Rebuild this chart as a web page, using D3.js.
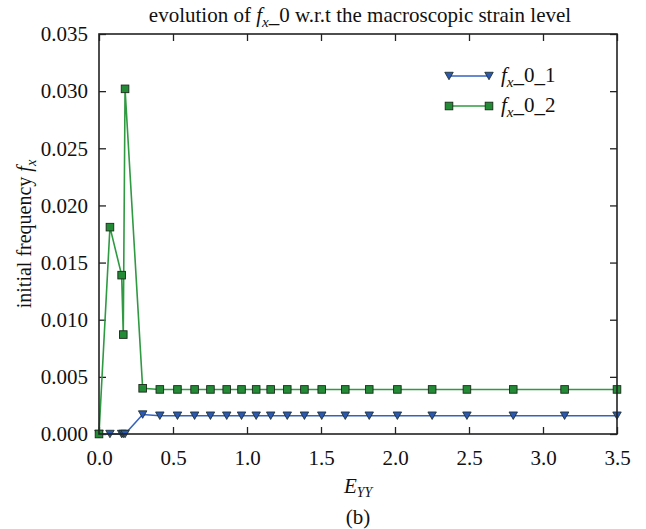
<!DOCTYPE html>
<html>
<head>
<meta charset="utf-8">
<script src="https://cdn.jsdelivr.net/npm/d3@7"></script>
<style>
  html, body { margin: 0; padding: 0; background: #fff; }
  svg { display: block; font-family: "Liberation Serif", "DejaVu Serif", serif; }
</style>
</head>
<body>
<svg id="chart" width="646" height="529"></svg>
<script>
// Macroscopic strain E_YY at each sampled state
const strain = [0, 0.074, 0.153, 0.164, 0.176, 0.295, 0.411, 0.53, 0.646, 0.753,
  0.863, 0.963, 1.062, 1.16, 1.272, 1.388, 1.505, 1.664, 1.826, 2.016,
  2.251, 2.486, 2.799, 3.146, 3.5];
// Initial frequency f_x for the two families
const fx01 = [0, 0, 0, 0, 0, 0.0017, 0.0016, 0.0016, 0.0016, 0.0016,
  0.0016, 0.0016, 0.0016, 0.0016, 0.0016, 0.0016, 0.0016, 0.0016, 0.0016, 0.0016,
  0.0016, 0.0016, 0.0016, 0.0016, 0.0016];
const fx02 = [0, 0.0181, 0.0139, 0.0087, 0.0302, 0.0040, 0.0039, 0.0039, 0.0039, 0.0039,
  0.0039, 0.0039, 0.0039, 0.0039, 0.0039, 0.0039, 0.0039, 0.0039, 0.0039, 0.0039,
  0.0039, 0.0039, 0.0039, 0.0039, 0.0039];
const xTicks = [0, 0.5, 1.0, 1.5, 2.0, 2.5, 3.0, 3.5];
const yTicks = [0, 0.005, 0.010, 0.015, 0.020, 0.025, 0.030, 0.035];
const seriesNames = ["1", "2"];

const svg = d3.select("#chart");
const L = 99, R = 617, T = 34, B = 434;
const x = d3.scaleLinear().domain([0, 3.5]).range([L, R]);
const y = d3.scaleLinear().domain([0, 0.035]).range([B, T]);

const blueLine = "#3562c0", blueFill = "#2a58b4";
const greenLine = "#2f9a42", greenFill = "#238a36";
const edge = "#1a2a1a";
const fs = 21;

// axes with inward ticks on all four sides
const tickLen = 7;
const axB = d3.axisBottom(x).tickValues(xTicks).tickFormat(d3.format(".1f")).tickSizeInner(-tickLen).tickSizeOuter(0).tickPadding(16);
const axT = d3.axisTop(x).tickValues(xTicks).tickFormat("").tickSizeInner(-tickLen).tickSizeOuter(0);
const axL = d3.axisLeft(y).tickValues(yTicks).tickFormat(d3.format(".3f")).tickSizeInner(-tickLen).tickSizeOuter(0).tickPadding(11);
const axR = d3.axisRight(y).tickValues(yTicks).tickFormat("").tickSizeInner(-tickLen).tickSizeOuter(0);

function styleAxis(g) {
  g.selectAll("path").remove();
  g.selectAll("line").attr("stroke", "#222").attr("stroke-width", 1.3);
  g.selectAll("text").attr("font-family", "Liberation Serif").attr("font-size", fs).attr("fill", "#111");
}
svg.append("g").attr("transform", `translate(0,${B})`).call(axB).call(styleAxis);
svg.append("g").attr("transform", `translate(0,${T})`).call(axT).call(styleAxis);
svg.append("g").attr("transform", `translate(${L},0)`).call(axL).call(styleAxis);
svg.append("g").attr("transform", `translate(${R},0)`).call(axR).call(styleAxis);

const plot = svg.append("g");
const line = d3.line().x(d => x(d[0])).y(d => y(d[1]));
const d1 = strain.map((s, i) => [s, fx01[i]]);
const d2 = strain.map((s, i) => [s, fx02[i]]);

function triPath(cx, cy) {
  const w = 8.5, h = 7.5;
  return `M${cx - w / 2},${cy - h / 2}L${cx + w / 2},${cy - h / 2}L${cx},${cy + h / 2}Z`;
}
function drawSeries(data, lc, fc, marker) {
  plot.append("path").datum(data).attr("d", line)
    .attr("fill", "none").attr("stroke", lc).attr("stroke-width", 1.6);
  if (marker === "tri") {
    plot.selectAll(null).data(data).enter().append("path")
      .attr("d", d => triPath(x(d[0]), y(d[1])))
      .attr("fill", fc).attr("stroke", edge).attr("stroke-width", 0.8);
  } else {
    plot.selectAll(null).data(data).enter().append("rect")
      .attr("x", d => x(d[0]) - 3.8).attr("y", d => y(d[1]) - 3.8)
      .attr("width", 7.6).attr("height", 7.6)
      .attr("fill", fc).attr("stroke", edge).attr("stroke-width", 0.9);
  }
}
drawSeries(d1, blueLine, blueFill, "tri");
drawSeries(d2, greenLine, greenFill, "sq");

// frame
svg.append("rect").attr("x", L).attr("y", T).attr("width", R - L).attr("height", B - T)
  .attr("fill", "none").attr("stroke", "#222").attr("stroke-width", 1.6);

// f_x label helper: italic f with italic subscript x
function fxText(t, prefix, suffix, size) {
  if (prefix) t.append("tspan").text(prefix);
  t.append("tspan").attr("font-style", "italic").text("f");
  t.append("tspan").attr("font-style", "italic").attr("font-size", size * 0.72).attr("dy", 5).text("x");
  t.append("tspan").attr("dy", -5).text(suffix);
}

// title
const title = svg.append("text").attr("x", (L + R) / 2 + 2).attr("y", 22)
  .attr("text-anchor", "middle").attr("font-size", fs).attr("fill", "#111");
fxText(title, "evolution of ", "_0 w.r.t the macroscopic strain level", fs);

// legend
const legY = [76, 106];
const legX0 = 449, legX1 = 489;
[[blueLine, blueFill, "tri"], [greenLine, greenFill, "sq"]].forEach((s, i) => {
  const yy = legY[i];
  svg.append("line").attr("x1", legX0).attr("x2", legX1).attr("y1", yy).attr("y2", yy)
    .attr("stroke", s[0]).attr("stroke-width", 1.6);
  [legX0, legX1].forEach(cx => {
    if (s[2] === "tri") {
      svg.append("path").attr("d", triPath(cx, yy)).attr("fill", s[1]).attr("stroke", edge).attr("stroke-width", 0.8);
    } else {
      svg.append("rect").attr("x", cx - 3.8).attr("y", yy - 3.8).attr("width", 7.6).attr("height", 7.6)
        .attr("fill", s[1]).attr("stroke", edge).attr("stroke-width", 0.9);
    }
  });
  const t = svg.append("text").attr("x", 501).attr("y", yy + 6).attr("font-size", fs).attr("fill", "#111");
  fxText(t, null, "_0_" + seriesNames[i], fs);
});

// axis labels
const xl = svg.append("text").attr("x", (L + R) / 2).attr("y", 493)
  .attr("text-anchor", "middle").attr("font-size", fs).attr("fill", "#111");
xl.append("tspan").attr("font-style", "italic").text("E");
xl.append("tspan").attr("font-style", "italic").attr("font-size", fs * 0.66).attr("dy", 4).text("YY");

const yl = svg.append("text").attr("transform", `translate(31,${(T + B) / 2}) rotate(-90)`)
  .attr("text-anchor", "middle").attr("font-size", 20).attr("fill", "#111");
fxText(yl, "initial frequency ", "", 20);

svg.append("text").attr("x", (L + R) / 2).attr("y", 524).attr("text-anchor", "middle")
  .attr("font-size", fs).attr("fill", "#111").text("(b)");
</script>
</body>
</html>
